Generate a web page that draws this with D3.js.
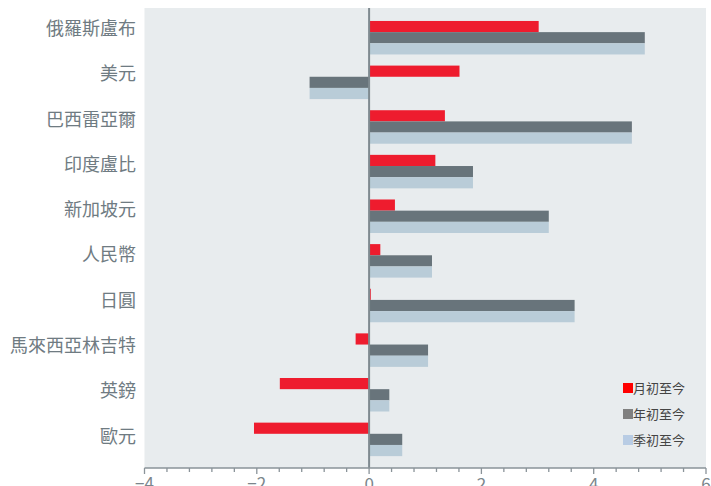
<!DOCTYPE html>
<html>
  <head>
    <meta charset="utf-8">
    <script type="text/javascript" src="https://d3js.org/d3.v7.min.js"></script>
    <style>
      body { margin: 0; background: #fff; }
      text { font-family: "Noto Sans CJK TC", "Noto Sans", sans-serif; }
    </style>
  </head>
  <body>
  </body>
  <script>

  var categories = ["俄羅斯盧布", "美元", "巴西雷亞爾", "印度盧比", "新加坡元",
                    "人民幣", "日圓", "馬來西亞林吉特", "英鎊", "歐元"];
  var seriesNames = ["月初至今", "年初至今", "季初至今"];
  var mtd = [3.02, 1.61, 1.35, 1.18, 0.46, 0.20, 0.03, -0.24, -1.59, -2.05];
  var ytd = [4.91, -1.06, 4.68, 1.85, 3.20, 1.12, 3.66, 1.05, 0.36, 0.59];
  var qtd = [4.91, -1.06, 4.68, 1.85, 3.20, 1.12, 3.66, 1.05, 0.36, 0.59];
  var xTicks = [-4, -2, 0, 2, 4, 6];

  var barColors = ["#ee1c2e", "#68747b", "#b9ccd8"];
  var legendColors = ["#ff0000", "#808080", "#b8cce4"];

  var width = 711, height = 486;
  var plotL = 144.5, plotR = 706, plotT = 8, plotB = 468;

  var svg = d3.select("body").append("svg")
              .attr("width", width)
              .attr("height", height);

  var x = d3.scaleLinear().domain([-4, 6]).range([plotL, plotR]);
  var yLabel = d3.scaleBand().domain(categories).range([6, 459]);
  var yBar = d3.scaleBand().domain(categories).range([15.4, 461.7]);
  var groupH = 33.5;
  var ySub = d3.scaleBand().domain(seriesNames).range([0, groupH]);

  // plot background
  svg.append("rect")
     .attr("x", plotL).attr("y", plotT)
     .attr("width", plotR - plotL).attr("height", plotB - plotT)
     .attr("fill", "#e8ecee");

  var values = [mtd, ytd, qtd];
  var groups = svg.selectAll("g.cat")
                  .data(categories)
                  .enter().append("g")
                  .attr("class", "cat")
                  .attr("transform", function(d) {
                    return "translate(0," + (yBar(d) + (yBar.bandwidth() - groupH) / 2) + ")";
                  });

  groups.selectAll("rect")
        .data(function(d, i) {
          return seriesNames.map(function(s, j) { return {s: s, j: j, v: values[j][i]}; });
        })
        .enter().append("rect")
        .attr("x", function(d) { return x(Math.min(0, d.v)); })
        .attr("y", function(d) { return ySub(d.s); })
        .attr("width", function(d) { return Math.abs(x(d.v) - x(0)); })
        .attr("height", ySub.bandwidth())
        .attr("fill", function(d) { return barColors[d.j]; });

  // zero line
  svg.append("line")
     .attr("x1", x(0)).attr("x2", x(0))
     .attr("y1", plotT).attr("y2", plotB)
     .attr("stroke", "#7f8a90")
     .attr("stroke-width", 2);

  // x axis: minor ticks every 0.4, major at labels
  var xAxis = svg.append("g").attr("transform", "translate(0," + plotB + ")");
  xAxis.append("line")
       .attr("x1", plotL).attr("x2", plotR)
       .attr("stroke", "#8a9399").attr("stroke-width", 1.5);
  var minor = d3.range(0, 26).map(function(i) { return -4 + i * 0.4; });
  xAxis.selectAll("line.minor")
       .data(minor)
       .enter().append("line")
       .attr("class", "minor")
       .attr("x1", function(d) { return x(d); })
       .attr("x2", function(d) { return x(d); })
       .attr("y1", 0)
       .attr("y2", function(d) { return xTicks.indexOf(Math.round(d * 10) / 10) >= 0 ? 6 : 4; })
       .attr("stroke", "#8a9399").attr("stroke-width", 1.3);
  xAxis.selectAll("text")
       .data(xTicks)
       .enter().append("text")
       .attr("x", function(d) { return x(d); })
       .attr("y", 22)
       .attr("text-anchor", "middle")
       .attr("font-size", 17)
       .attr("fill", "#7b868c")
       .text(function(d) { return d < 0 ? "\u2212" + Math.abs(d) : d; });

  // category labels
  svg.selectAll("text.cat")
     .data(categories)
     .enter().append("text")
     .attr("class", "cat")
     .attr("x", 136)
     .attr("y", function(d) { return yLabel(d) + yLabel.bandwidth() / 2; })
     .attr("dy", "0.35em")
     .attr("text-anchor", "end")
     .attr("font-size", 18)
     .attr("fill", "#6f7b82")
     .text(function(d) { return d; });

  // legend
  var legend = svg.selectAll("g.legend")
                  .data(seriesNames)
                  .enter().append("g")
                  .attr("class", "legend")
                  .attr("transform", function(d, i) { return "translate(623," + (388 + i * 26) + ")"; });
  legend.append("rect")
        .attr("x", 0).attr("y", -5)
        .attr("width", 10).attr("height", 10)
        .attr("fill", function(d, i) { return legendColors[i]; });
  legend.append("text")
        .attr("x", 10).attr("y", 0).attr("dy", "0.35em")
        .attr("font-size", 13)
        .attr("fill", "#444")
        .text(function(d) { return d; });

  </script>
</html>
